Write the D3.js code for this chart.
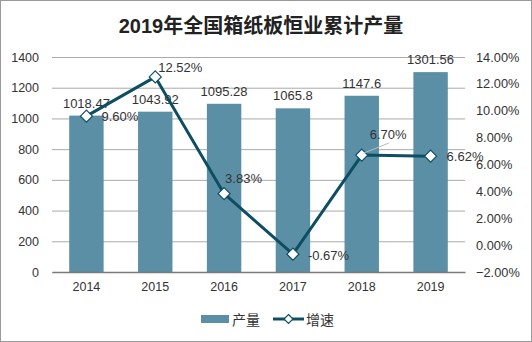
<!DOCTYPE html>
<html><head><meta charset="utf-8">
<script src="https://cdn.jsdelivr.net/npm/d3@7"></script>
<style>
body{margin:0;background:#fff;}
svg{display:block;font-family:"Liberation Sans",Arial,"Noto Sans CJK SC",sans-serif;}
</style></head>
<body><svg id="c" width="532" height="342"></svg>
<script>
const title = "2019年全国箱纸板恒业累计产量";
const years = ["2014","2015","2016","2017","2018","2019"];
const production = [1018.47, 1043.92, 1095.28, 1065.8, 1147.6, 1301.56];
const productionLabels = ["1018.47","1043.92","1095.28","1065.8","1147.6","1301.56"];
const growth = [9.60, 12.52, 3.83, -0.67, 6.70, 6.62];
const growthLabels = ["9.60%","12.52%","3.83%","-0.67%","6.70%","6.62%"];
const leftTicks = [0,200,400,600,800,1000,1200,1400];
const rightTicks = [-2,0,2,4,6,8,10,12,14];
const legendNames = ["产量","增速"];

const barColor = "#5b8fa6", lineColor = "#0e4e63";
const svg = d3.select("#c");
const m = {l:52, r:465, t:57, b:272};

svg.append("rect").attr("x",0.5).attr("y",0.5).attr("width",531).attr("height",341)
  .attr("fill","#fff").attr("stroke","#9a9a9a");

svg.append("text").attr("x",261).attr("y",33).attr("text-anchor","middle")
  .attr("font-size",20).attr("font-weight","bold").attr("fill","#222").text(title);

const x = d3.scaleBand().domain(years).range([m.l,m.r]).paddingInner(0.5).paddingOuter(0.25);
const yL = d3.scaleLinear().domain([0,1400]).range([m.b,m.t]);
const yR = d3.scaleLinear().domain([-2,14]).range([m.b,m.t]);

// gridlines
const gl = svg.append("g").call(d3.axisLeft(yL).tickValues(leftTicks).tickSize(-(m.r-m.l)).tickFormat(d=>d).tickPadding(13))
  .attr("transform",`translate(${m.l},0)`);
gl.select(".domain").remove();
gl.selectAll(".tick line").attr("stroke","#aaa");
gl.selectAll(".tick text").attr("font-size",12.5).attr("fill","#333").attr("font-family","Liberation Sans,Arial");

const gr = svg.append("g").attr("transform",`translate(${m.r},0)`)
  .call(d3.axisRight(yR).tickValues(rightTicks).tickSize(0).tickPadding(11).tickFormat(d=>d3.format(".2f")(d)+"%"));
gr.select(".domain").remove();
gr.selectAll(".tick text").attr("font-size",12.8).attr("fill","#333").attr("font-family","Liberation Sans,Arial");

// bars
svg.append("g").selectAll("rect").data(production).join("rect")
  .attr("x",(d,i)=>x(years[i])).attr("width",x.bandwidth())
  .attr("y",d=>yL(d)).attr("height",d=>yL(0)-yL(d)).attr("fill",barColor);

// x axis
const gx = svg.append("g").attr("transform",`translate(0,${m.b})`)
  .call(d3.axisBottom(x).tickSize(0).tickPadding(10));
gx.select(".domain").attr("stroke","#7a7a7a").attr("stroke-width",1.5);
gx.selectAll(".tick text").attr("font-size",12.5).attr("fill","#333").attr("font-family","Liberation Sans,Arial");

// bar labels
svg.append("g").selectAll("text").data(production).join("text")
  .attr("x",(d,i)=>x(years[i])+x.bandwidth()/2).attr("y",d=>yL(d)-8)
  .attr("text-anchor","middle").attr("font-size",13).attr("fill","#333")
  .text((d,i)=>productionLabels[i]);

// line
const cx = i => x(years[i])+x.bandwidth()/2;
const line = d3.line().x((d,i)=>cx(i)).y(d=>yR(d));
svg.append("path").datum(growth).attr("d",line).attr("fill","none")
  .attr("stroke",lineColor).attr("stroke-width",3).attr("stroke-linejoin","round");

const diamond = "M0,-6L6,0L0,6L-6,0Z";
svg.append("g").selectAll("path").data(growth).join("path")
  .attr("transform",(d,i)=>`translate(${cx(i)},${yR(d)})`).attr("d",diamond)
  .attr("fill","#fff").attr("stroke",lineColor).attr("stroke-width",1.2);

// growth labels
const off = [[15,5],[3,-5],[1,-11],[15,6],[8,-16],[16,5]];
// leader line for 2018
svg.append("line").attr("x1",cx(4)+2).attr("y1",yR(growth[4])-2)
  .attr("x2",cx(4)+27).attr("y2",yR(growth[4])-12).attr("stroke","#bbb").attr("stroke-width",1);
svg.append("g").selectAll("text").data(growth).join("text")
  .attr("x",(d,i)=>cx(i)+off[i][0]).attr("y",(d,i)=>yR(d)+off[i][1])
  .attr("font-size",13).attr("fill","#333").text((d,i)=>growthLabels[i]);

// legend
const lg = svg.append("g");
lg.append("rect").attr("x",201).attr("y",315).attr("width",28).attr("height",8).attr("fill",barColor);
lg.append("text").attr("x",232).attr("y",324.5).attr("font-size",14).attr("fill","#333").text(legendNames[0]);
lg.append("line").attr("x1",273).attr("x2",304).attr("y1",319).attr("y2",319).attr("stroke",lineColor).attr("stroke-width",3);
lg.append("path").attr("transform","translate(288.5,319)").attr("d","M0,-4.5L4.5,0L0,4.5L-4.5,0Z")
  .attr("fill","#fff").attr("stroke",lineColor).attr("stroke-width",1.2);
lg.append("text").attr("x",306).attr("y",324.5).attr("font-size",14).attr("fill","#333").text(legendNames[1]);
</script></body></html>
